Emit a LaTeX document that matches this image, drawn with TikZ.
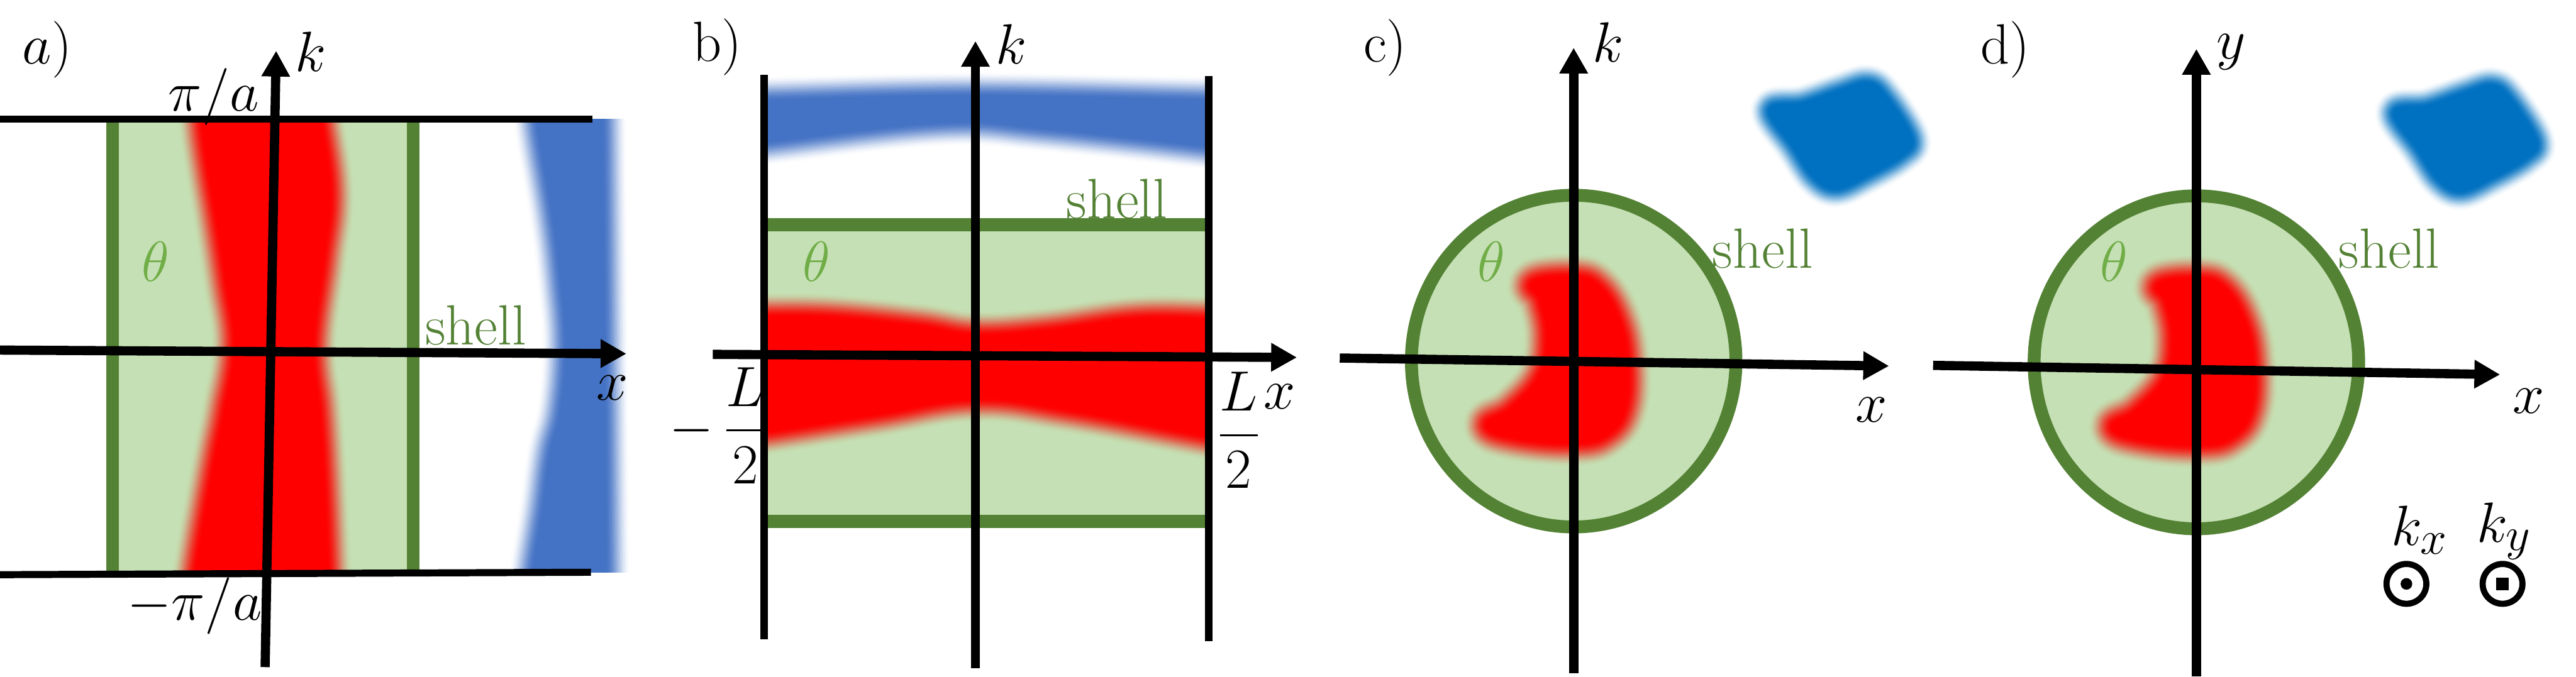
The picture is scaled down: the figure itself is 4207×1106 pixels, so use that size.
\documentclass[tikz,border=0pt]{standalone}
\usepackage{amsmath}
\usetikzlibrary{arrows.meta}
\definecolor{shellgreen}{HTML}{548235}
\definecolor{fillgreen}{HTML}{C5E0B4}
\definecolor{thetagreen}{HTML}{70AD47}
\definecolor{bandblue}{HTML}{4472C4}
\definecolor{spotblue}{HTML}{0070C0}
\newcommand{\softblob}[3]{%
  \foreach \lay in {1,...,16}{%
    \pgfmathsetmacro{\wid}{#2*(17-\lay)/16}%
    \pgfmathsetmacro{\low}{((\lay-1)/16)^2*(3-2*(\lay-1)/16)}%
    \pgfmathsetmacro{\upp}{(\lay/16)^2*(3-2*\lay/16)}%
    \pgfmathsetmacro{\opa}{(\upp-\low)/(1-\low)}%
    \path[fill=#1,draw=#1,line join=round,opacity=\opa,line width=\wid*0.01cm] #3;
  }}
\newcommand{\redcell}{plot[smooth cycle,tension=.7] coordinates {(2506,463) (2570,456) (2608,470) (2639,519) (2654,585) (2651,665) (2621,708) (2570,720) (2480,713) (2431,695) (2470,670) (2518,615) (2530,550) (2519,490)}}
\newcommand{\bluecell}{plot[smooth cycle,tension=.6] coordinates {(2892,180) (2945,171) (3006,150) (3050,138) (3078,159) (3120,226) (3104,253) (3050,284) (2999,306) (2964,288) (2930,238)}}
\begin{document}
\begin{tikzpicture}[x=0.01cm,y=-0.01cm]
        \tikzstyle{axis}=[line width=0.15cm,-{Triangle[length=4.2mm,width=4.4mm]}]
        \tikzstyle{edge}=[line width=0.115cm]
        \tikzstyle{shellline}=[shellgreen,line width=0.21cm]
        \tikzstyle{lbl}=[inner sep=0pt,scale=1.06,transform shape,font=\fontsize{24.88}{28}\selectfont]
        \tikzstyle{shelltext}=[lbl,text=shellgreen]
        \tikzstyle{thetatext}=[lbl,text=thetagreen]
        \useasboundingbox (0,0) rectangle (4207,1106);
        % a)
        \fill[fillgreen] (184,195) rectangle (675,937);
        \begin{scope}
            \clip (184,195) rectangle (675,937);
            \softblob{red}{84}{plot[smooth,tension=.7] coordinates {(334,170) (334,205) (345,282) (357,353) (373,458) (387,564) (371,670) (357,741) (338,846) (324,931) (322,965)} -- plot[smooth,tension=.7] coordinates {(532,965) (532,931) (525,776) (518,670) (508,564) (525,423) (536,317) (522,205) (518,170)} -- cycle}
        \end{scope}
        \begin{scope}
            \clip (830,195) rectangle (1031,935);
            \softblob{bandblue}{84}{plot[smooth,tension=.7] coordinates {(881,170) (881,205) (906,353) (919,458) (927,564) (919,670) (902,741) (889,836) (874,931) (874,965)} -- (987,965) -- (981,170) -- cycle}
        \end{scope}
        \draw[shellline] (184,195) -- (184,937);
        \draw[shellline] (675,195) -- (675,937);
        \coordinate (aTopL) at (0,195);
        \coordinate (aTopR) at (967,195);
        \coordinate (aBotL) at (0,939);
        \coordinate (aBotR) at (965,935);
        \coordinate (aX0) at (0,572);
        \coordinate (aX1) at (1023,578);
        \coordinate (aK0) at (433,1090);
        \coordinate (aK1) at (451,83);
        \draw[edge] (aTopL) -- (aTopR);
        \draw[edge] (aBotL) -- (aBotR);
        \draw[axis] (aX0) -- (aX1);
        \draw[axis] (aK0) -- (aK1);
        \node[lbl] (aName) at (77,81) {$a)$};
        \node[lbl] (aK) at (507,84) {$k$};
        \node[lbl] (aPi) at (349,158) {$\pi/a$};
        \node[lbl] (aMinusPi) at (318,990) {$-\pi/a$};
        \node[thetatext] (aTheta) at (254,427) {$\theta$};
        \node[shelltext] (aShell) at (777,532) {shell};
        \node[lbl] (aX) at (1000,634) {$x$};
        % b)
        \fill[fillgreen] (1253,367) rectangle (1969,852);
        \begin{scope}
            \clip (1253,367) rectangle (1969,852);
            \softblob{red}{84}{plot[smooth,tension=.7] coordinates {(1230,521) (1255,521) (1361,523) (1501,537) (1593,551) (1711,544) (1852,525) (1967,525) (1990,525)} -- plot[smooth,tension=.7] coordinates {(1990,709) (1967,708) (1746,666) (1593,648) (1431,673) (1255,701) (1230,703)} -- cycle}
        \end{scope}
        \begin{scope}
            \clip (1253,100) rectangle (1969,320);
            \softblob{bandblue}{84}{plot[smooth,tension=.7] coordinates {(1230,167) (1255,167) (1593,160) (1967,167) (1990,167)} -- plot[smooth,tension=.7] coordinates {(1990,240) (1967,235) (1711,207) (1536,197) (1255,228) (1230,233)} -- cycle}
        \end{scope}
        \draw[shellline] (1253,367) -- (1969,367);
        \draw[shellline] (1253,852) -- (1969,852);
        \coordinate (bLeft0) at (1248,122);
        \coordinate (bLeft1) at (1248,1045);
        \coordinate (bRight0) at (1974,124);
        \coordinate (bRight1) at (1974,1048);
        \coordinate (bX0) at (1164,579);
        \coordinate (bX1) at (2118,584);
        \coordinate (bK0) at (1593,1092);
        \coordinate (bK1) at (1593,67);
        \draw[edge] (bLeft0) -- (bLeft1);
        \draw[edge] (bRight0) -- (bRight1);
        \draw[axis] (bX0) -- (bX1);
        \draw[axis] (bK0) -- (bK1);
        \node[lbl] (bName) at (1171,77) {b)};
        \node[lbl] (bK) at (1652,72) {$k$};
        \node[shelltext] (bShell) at (1824,325) {shell};
        \node[thetatext] (bTheta) at (1334,427) {$\theta$};
        \node[lbl] (bMinusL) at (1173,695) {$-\,\dfrac{L}{2}$};
        \node[lbl] (bPlusL) at (2023,703) {$\dfrac{L}{2}$};
        \node[lbl] (bX) at (2090,648) {$x$};
        % c)
        \draw[shellline,fill=fillgreen] (2570,590) ellipse [x radius=265,y radius=271];
        \softblob{red}{84}{\redcell}
        \softblob{spotblue}{68}{\bluecell}
        \coordinate (cX0) at (2188,585);
        \coordinate (cX1) at (3085,598);
        \coordinate (cK0) at (2570,1100);
        \coordinate (cK1) at (2570,78);
        \draw[axis] (cX0) -- (cX1);
        \draw[axis] (cK0) -- (cK1);
        \node[lbl] (cName) at (2262,78) {c)};
        \node[lbl] (cK) at (2626,69) {$k$};
        \node[thetatext] (cTheta) at (2436,427) {$\theta$};
        \node[shelltext] (cShell) at (2879,406) {shell};
        \node[lbl] (cX) at (3056,670) {$x$};
        % d)
        \draw[shellline,fill=fillgreen] (3587,592) ellipse [x radius=265,y radius=272];
        \begin{scope}[shift={(1022,3)}]
            \softblob{red}{84}{\redcell}
        \end{scope}
        \begin{scope}[shift={(1020,4)}]
            \softblob{spotblue}{68}{\bluecell}
        \end{scope}
        \coordinate (dX0) at (3157,597);
        \coordinate (dX1) at (4083,612);
        \coordinate (dY0) at (3587,1105);
        \coordinate (dY1) at (3587,80);
        \draw[axis] (dX0) -- (dX1);
        \draw[axis] (dY0) -- (dY1);
        \node[lbl] (dName) at (3275,81) {d)};
        \node[lbl] (dY) at (3644,85) {$y$};
        \node[thetatext] (dTheta) at (3452,427) {$\theta$};
        \node[shelltext] (dShell) at (3902,406) {shell};
        \node[lbl] (dX) at (4129,655) {$x$};
        \node[lbl] (dKx) at (3952,866) {$k_x$};
        \node[lbl] (dKy) at (4090,868) {$k_y$};
        \node[circle,draw,line width=0.1cm,minimum size=0.65cm,inner sep=0pt] (kxRing) at (3930,954) {};
        \node[circle,fill,minimum size=0.19cm,inner sep=0pt] (kxDot) at (kxRing) {};
        \node[circle,draw,line width=0.1cm,minimum size=0.65cm,inner sep=0pt] (kyRing) at (4087,954) {};
        \node[rectangle,fill,minimum size=0.21cm,inner sep=0pt] (kyBox) at (kyRing) {};
    \end{tikzpicture}
\end{document}
